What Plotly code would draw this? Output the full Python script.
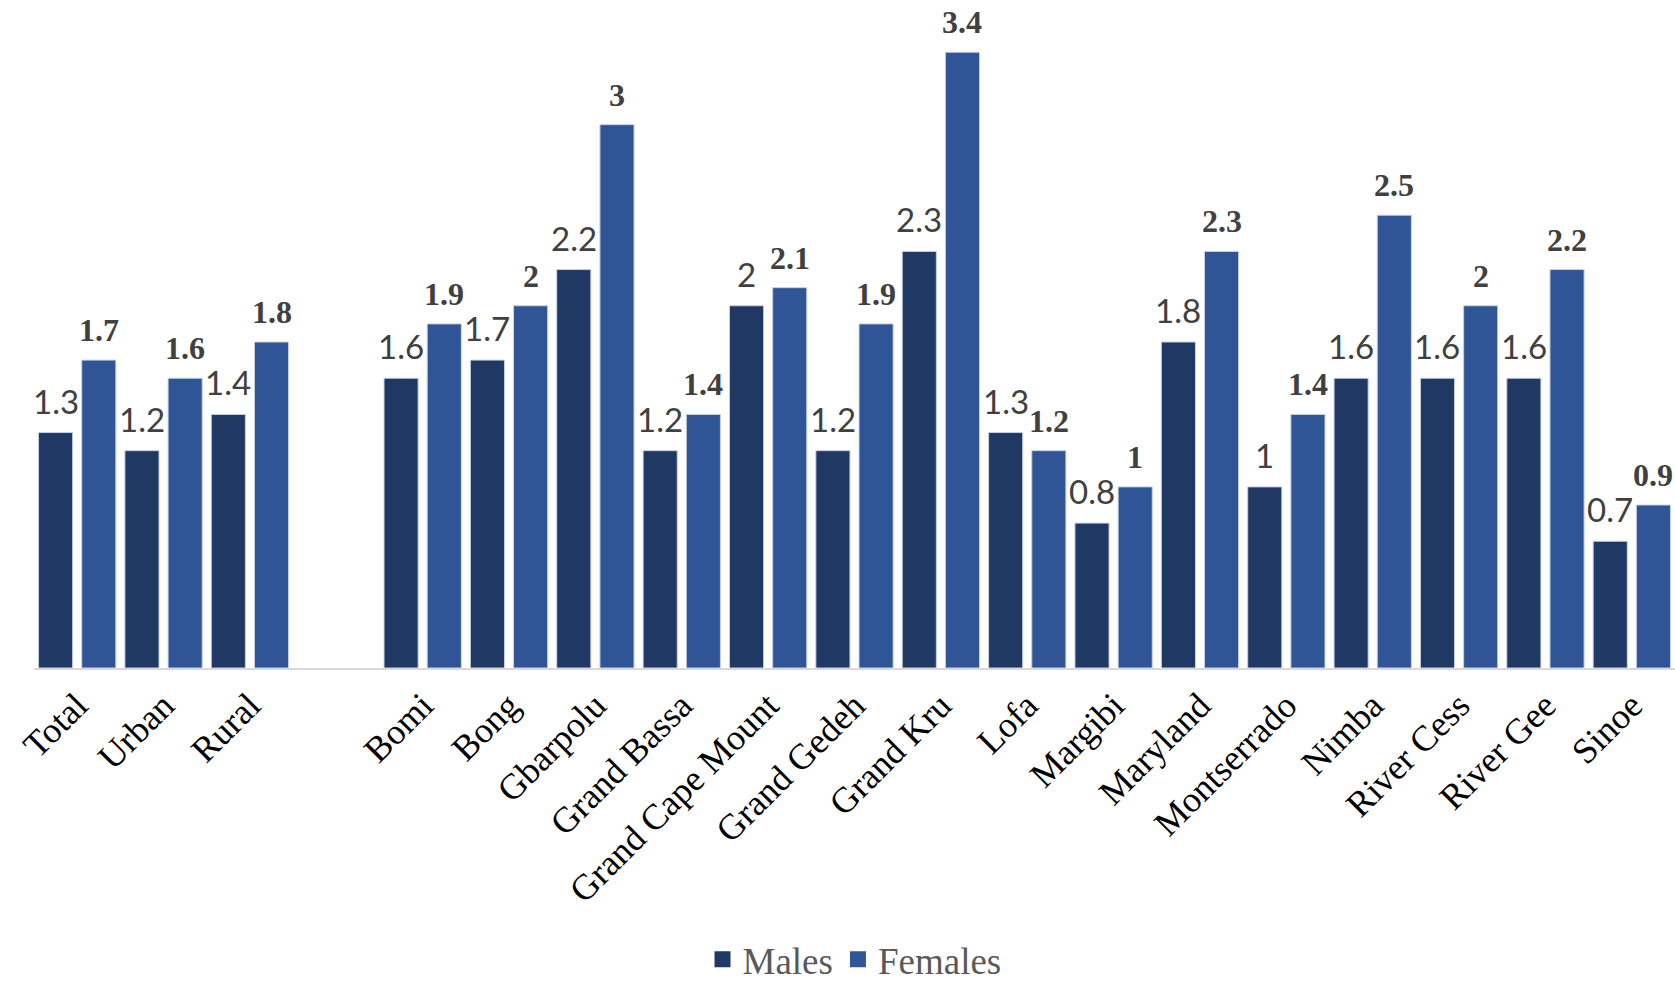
import plotly.graph_objects as go

# Categories: national totals, a spacer, then the counties
categories = ["Total", "Urban", "Rural", " ",
              "Bomi", "Bong", "Gbarpolu", "Grand Bassa", "Grand Cape Mount",
              "Grand Gedeh", "Grand Kru", "Lofa", "Margibi", "Maryland",
              "Montserrado", "Nimba", "River Cess", "River Gee", "Sinoe"]
males = [1.3, 1.2, 1.4, None,
         1.6, 1.7, 2.2, 1.2, 2.0, 1.2, 2.3, 1.3, 0.8, 1.8, 1.0, 1.6, 1.6, 1.6, 0.7]
females = [1.7, 1.6, 1.8, None,
           1.9, 2.0, 3.0, 1.4, 2.1, 1.9, 3.4, 1.2, 1.0, 2.3, 1.4, 2.5, 2.0, 2.2, 0.9]

MALE_COLOR = "#203864"
FEMALE_COLOR = "#2F5597"
OUTLINE = "#c8d0e0"
SERIF = "Liberation Serif, Times New Roman, serif"

W, H = 1675, 983
ML, MR, MT, MB = 34, 0, 16, 315
slot_px = (W - ML - MR) / 19.0
offset_px = slot_px / 4.0

fig = go.Figure()
for name, vals, color in (("Males", males, MALE_COLOR), ("Females", females, FEMALE_COLOR)):
    fig.add_trace(go.Bar(name=name, x=categories, y=vals, legendgroup=name,
                         showlegend=False,
                         marker=dict(color=color, line=dict(color=OUTLINE, width=1))))
# Larger square legend keys than the default bar swatch
for name, color in (("Males", MALE_COLOR), ("Females", FEMALE_COLOR)):
    fig.add_trace(go.Scatter(name=name, x=[None], y=[None], mode="markers",
                             legendgroup=name, showlegend=True, hoverinfo="skip",
                             marker=dict(symbol="square", size=19, color=color,
                                         line=dict(width=0))))


def fmt(v):
    return f"{v:g}"


annotations = []
for cat, m, f in zip(categories, males, females):
    if m is not None:
        annotations.append(dict(
            x=cat, y=m, xref="x", yref="y", text=fmt(m), showarrow=False,
            xanchor="center", yanchor="bottom", xshift=-offset_px, yshift=10,
            font=dict(family="Lato, Open Sans, sans-serif", size=33, color="#404040")))
    if f is not None:
        annotations.append(dict(
            x=cat, y=f, xref="x", yref="y", text=f"<b>{fmt(f)}</b>", showarrow=False,
            xanchor="center", yanchor="bottom", xshift=offset_px, yshift=10,
            font=dict(family=SERIF, size=32, color="#404040")))

fig.update_layout(
    width=W, height=H,
    margin=dict(l=ML, r=MR, t=MT, b=MB, pad=0, autoexpand=False),
    paper_bgcolor="white", plot_bgcolor="white",
    barmode="group", bargap=0.0, bargroupgap=0.21,
    showlegend=True,
    legend=dict(orientation="h", x=0.5, xanchor="center", y=-0.40, yanchor="top",
                itemsizing="trace",
                font=dict(family=SERIF, size=37, color="#595959"),
                itemclick=False, itemdoubleclick=False),
    annotations=annotations,
    xaxis=dict(type="category", range=[-0.5, 18.5], showgrid=False, automargin=False,
               showline=True, linecolor="#d9d9d9", linewidth=2,
               ticks="", tickangle=-45, ticklabelstandoff=0,
               tickfont=dict(family=SERIF, size=36, color="black")),
    yaxis=dict(range=[0, 3.6], visible=False, showgrid=False, zeroline=False,
               automargin=False),
)

fig.write_html("out.html")
